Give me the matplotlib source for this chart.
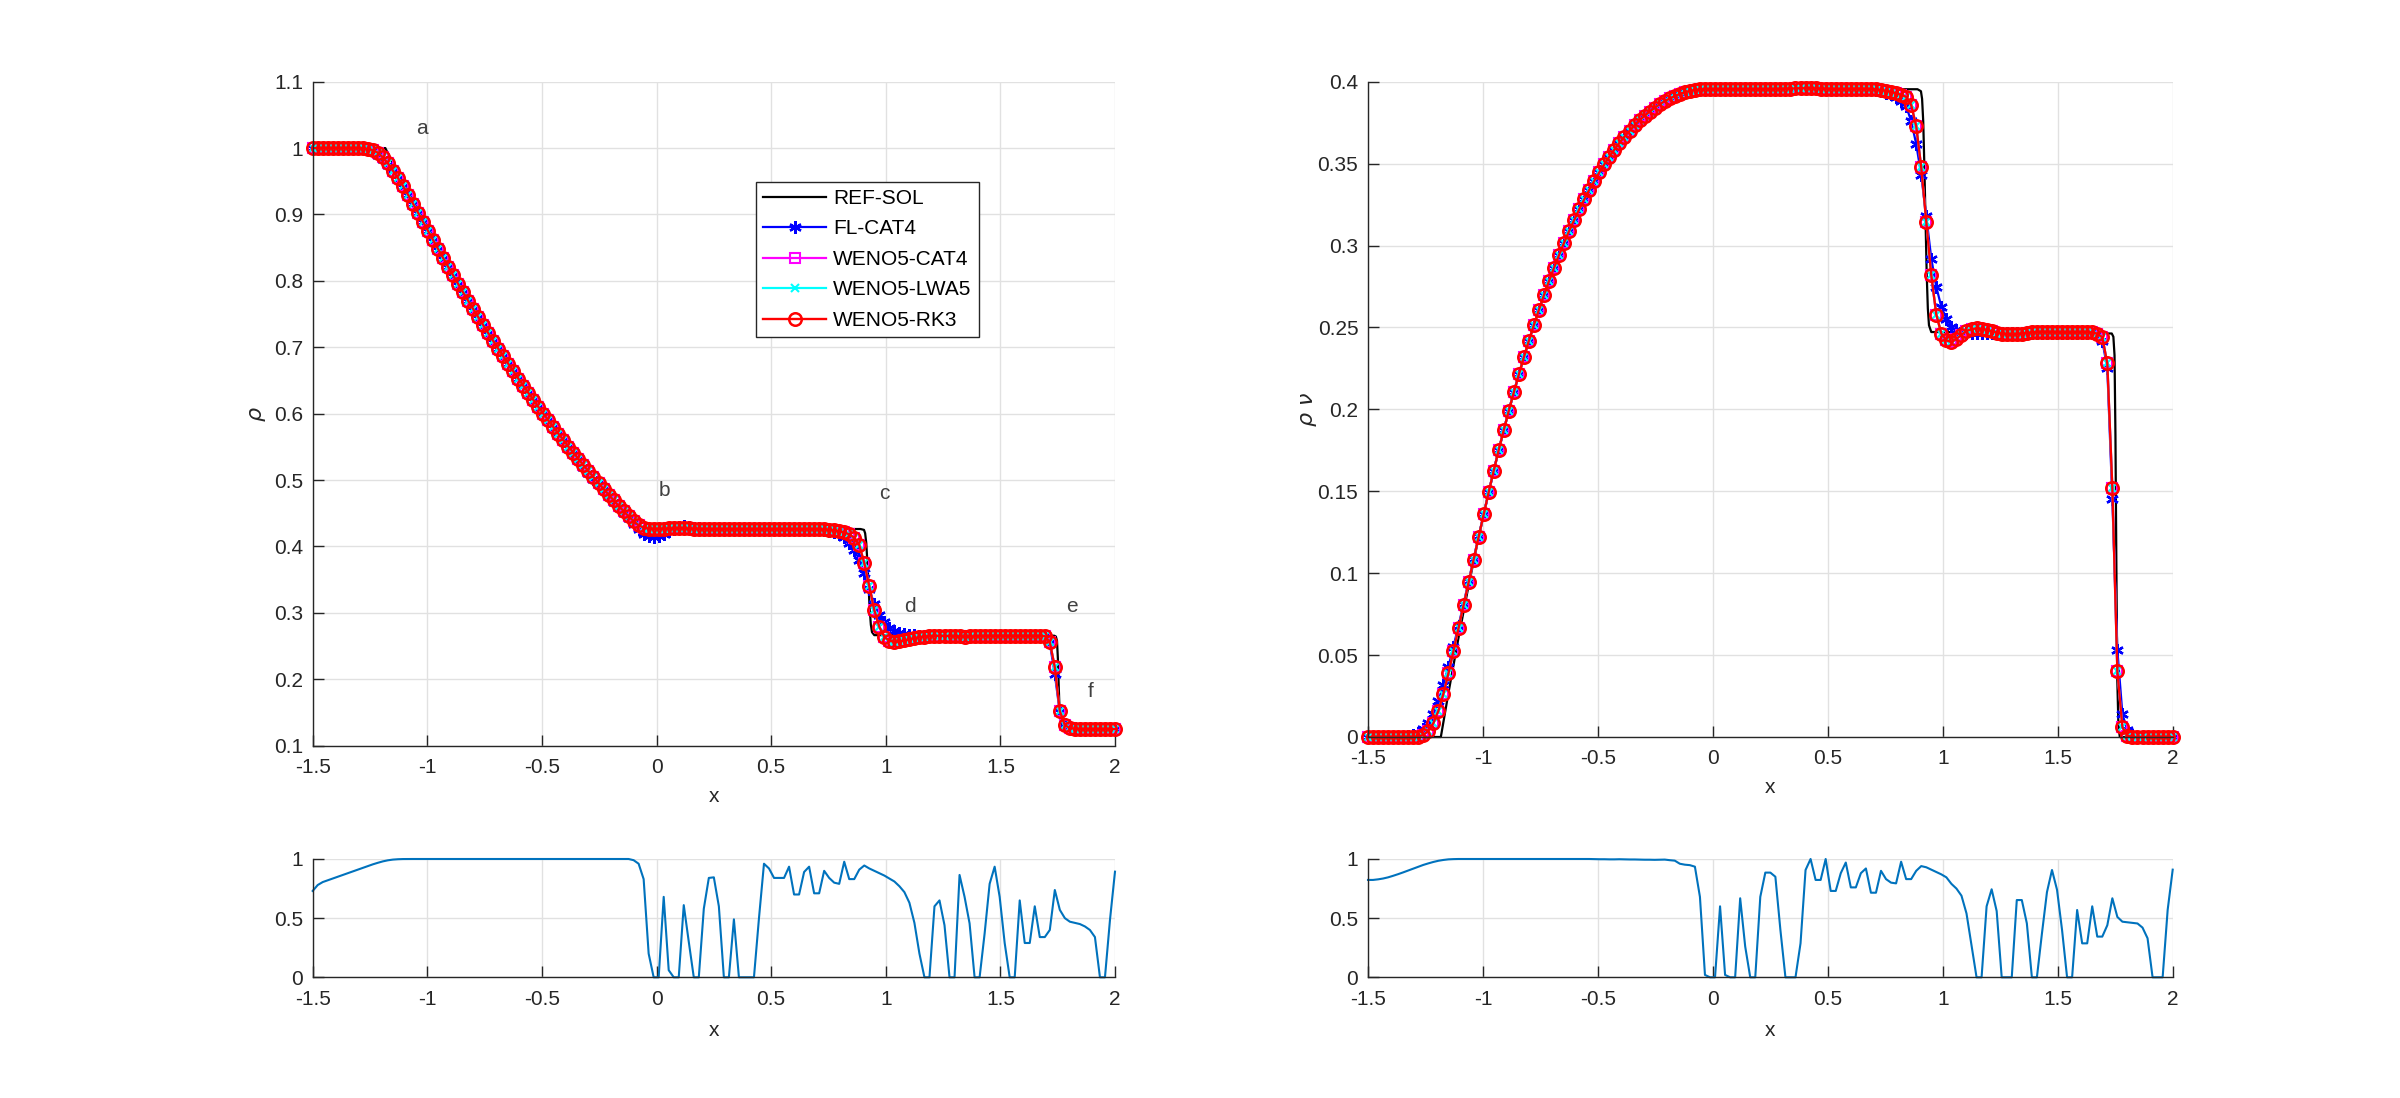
import numpy as np
import matplotlib
matplotlib.use("Agg")
import matplotlib.pyplot as plt
from matplotlib.ticker import FuncFormatter

plt.rcParams['font.family'] = ['Liberation Sans', 'DejaVu Sans']
plt.rcParams['axes.unicode_minus'] = False
plt.rcParams['mathtext.fontset'] = 'dejavusans'

# ---------------- data ----------------
x_min, x_max, n_pts = -1.5, 2.0, 161
x_ticks = [-1.5, -1, -0.5, 0, 0.5, 1, 1.5, 2]
rho_ticks = [0.1, 0.2, 0.3, 0.4, 0.5, 0.6, 0.7, 0.8, 0.9, 1.0, 1.1]
mom_ticks = [0, 0.05, 0.1, 0.15, 0.2, 0.25, 0.3, 0.35, 0.4]
ind_ticks = [0, 0.5, 1]
series_names = ['REF-SOL', 'FL-CAT4', 'WENO5-CAT4', 'WENO5-LWA5', 'WENO5-RK3']

# reference solution (polyline vertices)
x_ref = [-1.5, -1.1832, -1.15, -1.10625, -1.0625, -1.01875, -0.975, -0.93125, -0.8875,
         -0.84375, -0.8, -0.75625, -0.7125, -0.66875, -0.625, -0.58125, -0.5375,
         -0.49375, -0.45, -0.40625, -0.3625, -0.31875, -0.275, -0.23125, -0.1875,
         -0.14375, -0.1, -0.0703, 0.89, 0.905, 0.91, 0.915, 0.92, 0.925, 0.93, 0.935,
         0.94, 0.95, 1.735, 1.742, 1.747, 1.751, 1.755, 1.759, 1.764, 1.77, 2.0]
rho_ref = [1.0, 1.0, 0.9768, 0.9470, 0.9179, 0.8894, 0.8617, 0.8347, 0.8084, 0.7827,
           0.7577, 0.7334, 0.7096, 0.6865, 0.6640, 0.6421, 0.6208, 0.6000, 0.5798,
           0.5602, 0.5411, 0.5224, 0.5044, 0.4868, 0.4697, 0.4531, 0.4370, 0.4263,
           0.4263, 0.4250, 0.4200, 0.4050, 0.3750, 0.3400, 0.3050, 0.2820, 0.2710,
           0.2665, 0.2656, 0.2645, 0.2580, 0.2300, 0.1850, 0.1450, 0.1290, 0.1250, 0.1250]
mom_ref = [0.0, 0.0, 0.0270, 0.0607, 0.0923, 0.1219, 0.1495, 0.1753, 0.1992, 0.2214,
           0.2420, 0.2609, 0.2784, 0.2943, 0.3089, 0.3221, 0.3340, 0.3447, 0.3543,
           0.3627, 0.3700, 0.3764, 0.3817, 0.3862, 0.3898, 0.3925, 0.3945, 0.3954,
           0.3954, 0.3942, 0.3895, 0.3756, 0.3478, 0.3153, 0.2829, 0.2615, 0.2513,
           0.2472, 0.2463, 0.2443, 0.2330, 0.1840, 0.1052, 0.0350, 0.0070, 0.0, 0.0]

rho_weno = [
    1.0, 1.0, 1.0, 1.0, 1.0, 1.0, 1.0, 1.0, 1.0, 1.0,
    0.9995, 0.999, 0.997, 0.993, 0.986, 0.977, 0.966, 0.955, 0.943, 0.930,
    0.9165, 0.903, 0.889, 0.8755, 0.8617, 0.8481, 0.8347, 0.8215, 0.8084, 0.7955,
    0.7827, 0.7701, 0.7577, 0.7455, 0.7334, 0.7214, 0.7096, 0.6980, 0.6865, 0.6752,
    0.6640, 0.6530, 0.6421, 0.6314, 0.6208, 0.6103, 0.6000, 0.5898, 0.5798, 0.5699,
    0.5602, 0.5505, 0.5411, 0.5317, 0.5224, 0.5133, 0.5044, 0.4955, 0.4868, 0.4782,
    0.4697, 0.4614, 0.4533, 0.4455, 0.4382, 0.4320, 0.4283, 0.4270, 0.4266, 0.4266,
    0.4268, 0.4271, 0.4273, 0.4274, 0.4273, 0.4271, 0.4269, 0.4267, 0.4265, 0.4264,
    0.4264, 0.4264, 0.4264, 0.4264, 0.4264, 0.4264, 0.4264, 0.4264, 0.4264, 0.4264,
    0.4264, 0.4264, 0.4264, 0.4264, 0.4264, 0.4264, 0.4264, 0.4264, 0.4264, 0.4264,
    0.4263, 0.4261, 0.4257, 0.4251, 0.4243, 0.4232, 0.4214, 0.4183, 0.4130, 0.4020,
    0.3750, 0.3400, 0.3040, 0.2790, 0.2640, 0.2580, 0.2565, 0.2570, 0.2585, 0.2603,
    0.2620, 0.2634, 0.2644, 0.2651, 0.2655, 0.2656, 0.2655, 0.2652, 0.2648, 0.2645,
    0.2644, 0.2645, 0.2648, 0.2651, 0.2654, 0.2655, 0.2656, 0.2656, 0.2656, 0.2656,
    0.2656, 0.2656, 0.2656, 0.2656, 0.2656, 0.2655, 0.2650, 0.2560, 0.2180, 0.1520,
    0.1310, 0.1265, 0.1255, 0.125, 0.125, 0.125, 0.125, 0.125, 0.125, 0.125,
    0.125]

rho_fl = [
    1.0, 1.0, 1.0, 1.0, 1.0, 1.0, 1.0, 1.0, 1.0, 1.0,
    0.9995, 0.998, 0.995, 0.990, 0.983, 0.975, 0.965, 0.954, 0.942, 0.929,
    0.916, 0.902, 0.8885, 0.8745, 0.8607, 0.8471, 0.8337, 0.8205, 0.8074, 0.7945,
    0.7817, 0.7691, 0.7567, 0.7445, 0.7324, 0.7204, 0.7086, 0.6970, 0.6855, 0.6742,
    0.6630, 0.6520, 0.6411, 0.6304, 0.6198, 0.6093, 0.5990, 0.5888, 0.5788, 0.5689,
    0.5582, 0.5485, 0.5391, 0.5297, 0.5204, 0.5113, 0.5024, 0.4935, 0.4848, 0.4762,
    0.4677, 0.4594, 0.4510, 0.4430, 0.4345, 0.4265, 0.4195, 0.4160, 0.4150, 0.4162,
    0.4192, 0.4232, 0.4268, 0.4293, 0.4302, 0.4298, 0.4285, 0.4273, 0.4266, 0.4263,
    0.4263, 0.4264, 0.4264, 0.4264, 0.4264, 0.4264, 0.4264, 0.4264, 0.4264, 0.4264,
    0.4264, 0.4264, 0.4264, 0.4264, 0.4264, 0.4264, 0.4264, 0.4264, 0.4264, 0.4264,
    0.4262, 0.4257, 0.4250, 0.4238, 0.4220, 0.4190, 0.4140, 0.4060, 0.3950, 0.3800,
    0.3600, 0.3360, 0.3130, 0.2970, 0.2860, 0.2780, 0.2730, 0.2700, 0.2680, 0.2668,
    0.2661, 0.2658, 0.2657, 0.2656, 0.2656, 0.2656, 0.2656, 0.2656, 0.2656, 0.2656,
    0.2656, 0.2656, 0.2656, 0.2656, 0.2656, 0.2656, 0.2656, 0.2656, 0.2656, 0.2656,
    0.2656, 0.2656, 0.2656, 0.2656, 0.2656, 0.2656, 0.2645, 0.2540, 0.2080, 0.1500,
    0.1330, 0.1280, 0.1260, 0.1255, 0.125, 0.125, 0.125, 0.125, 0.125, 0.125,
    0.125]

mom_weno = [
    0.0, 0.0, 0.0, 0.0, 0.0, 0.0, 0.0, 0.0, 0.0, 0.0,
    0.0003, 0.0012, 0.0038, 0.0085, 0.0160, 0.0265, 0.0390, 0.0525, 0.0665, 0.0805,
    0.0945, 0.1083, 0.1222, 0.1359, 0.1495, 0.1626, 0.1753, 0.1874, 0.1992, 0.2105,
    0.2214, 0.2319, 0.2420, 0.2516, 0.2609, 0.2698, 0.2784, 0.2865, 0.2943, 0.3018,
    0.3089, 0.3156, 0.3221, 0.3282, 0.3340, 0.3395, 0.3447, 0.3496, 0.3543, 0.3586,
    0.3627, 0.3665, 0.3700, 0.3733, 0.3764, 0.3792, 0.3817, 0.3841, 0.3862, 0.3881,
    0.3898, 0.3912, 0.3925, 0.3936, 0.3944, 0.3950, 0.3953, 0.3954, 0.3954, 0.3954,
    0.3954, 0.3954, 0.3954, 0.3954, 0.3954, 0.3954, 0.3954, 0.3954, 0.3954, 0.3954,
    0.3954, 0.3955, 0.3956, 0.3957, 0.3958, 0.3959, 0.3960, 0.3960, 0.3960, 0.3959,
    0.3958, 0.3957, 0.3956, 0.3955, 0.3955, 0.3955, 0.3956, 0.3957, 0.3957, 0.3956,
    0.3955, 0.3953, 0.3950, 0.3945, 0.3939, 0.3930, 0.3920, 0.3908, 0.3858, 0.3729,
    0.3477, 0.3144, 0.2818, 0.2578, 0.2462, 0.2421, 0.2411, 0.2430, 0.2455, 0.2478,
    0.2490, 0.2494, 0.2492, 0.2486, 0.2478, 0.2469, 0.2462, 0.2458, 0.2457, 0.2459,
    0.2463, 0.2467, 0.2470, 0.2472, 0.2473, 0.2473, 0.2472, 0.2471, 0.2470, 0.2470,
    0.2470, 0.2471, 0.2472, 0.2472, 0.2470, 0.2462, 0.2440, 0.2280, 0.1520, 0.0400,
    0.0060, 0.0008, 0.0, 0.0, 0.0, 0.0, 0.0, 0.0, 0.0, 0.0,
    0.0]

mom_fl = [
    0.0, 0.0, 0.0, 0.0, 0.0, 0.0, 0.0, 0.0, 0.0005, 0.0012,
    0.0025, 0.0048, 0.0085, 0.0140, 0.0220, 0.0320, 0.0430, 0.0552, 0.0680, 0.0812,
    0.0950, 0.1088, 0.1225, 0.1359, 0.1495, 0.1626, 0.1753, 0.1874, 0.1992, 0.2105,
    0.2214, 0.2319, 0.2420, 0.2516, 0.2609, 0.2698, 0.2784, 0.2865, 0.2943, 0.3018,
    0.3089, 0.3156, 0.3221, 0.3282, 0.3340, 0.3395, 0.3447, 0.3496, 0.3543, 0.3586,
    0.3627, 0.3665, 0.3700, 0.3733, 0.3764, 0.3792, 0.3817, 0.3841, 0.3862, 0.3881,
    0.3898, 0.3912, 0.3925, 0.3936, 0.3944, 0.3950, 0.3953, 0.3954, 0.3954, 0.3954,
    0.3954, 0.3954, 0.3954, 0.3954, 0.3954, 0.3954, 0.3954, 0.3954, 0.3954, 0.3954,
    0.3954, 0.3955, 0.3956, 0.3957, 0.3958, 0.3959, 0.3960, 0.3960, 0.3960, 0.3959,
    0.3958, 0.3957, 0.3956, 0.3955, 0.3955, 0.3955, 0.3956, 0.3957, 0.3957, 0.3956,
    0.3953, 0.3949, 0.3943, 0.3934, 0.3922, 0.3908, 0.3885, 0.3850, 0.3760, 0.3620,
    0.3430, 0.3180, 0.2920, 0.2747, 0.2625, 0.2554, 0.2503, 0.2482, 0.2472, 0.2468,
    0.2466, 0.2465, 0.2465, 0.2465, 0.2465, 0.2465, 0.2465, 0.2465, 0.2465, 0.2465,
    0.2465, 0.2465, 0.2465, 0.2465, 0.2465, 0.2465, 0.2465, 0.2465, 0.2465, 0.2465,
    0.2465, 0.2465, 0.2465, 0.2465, 0.2465, 0.2460, 0.2420, 0.2250, 0.1450, 0.0530,
    0.0140, 0.0040, 0.0010, 0.0, 0.0, 0.0, 0.0, 0.0, 0.0, 0.0,
    0.0]

ind_rho = [
    0.73, 0.78, 0.805, 0.82, 0.835, 0.85, 0.865, 0.88, 0.895, 0.91,
    0.925, 0.94, 0.955, 0.968, 0.98, 0.989, 0.995, 0.998, 0.9995, 1.0,
    1.0, 1.0, 1.0, 1.0, 1.0, 1.0, 1.0, 1.0, 1.0, 1.0,
    1.0, 1.0, 1.0, 1.0, 1.0, 1.0, 1.0, 1.0, 1.0, 1.0,
    1.0, 1.0, 1.0, 1.0, 1.0, 1.0, 1.0, 1.0, 1.0, 1.0,
    1.0, 1.0, 1.0, 1.0, 1.0, 1.0, 1.0, 1.0, 1.0, 1.0,
    1.0, 1.0, 1.0, 1.0, 0.99, 0.96, 0.83, 0.2, 0.0, 0.0,
    0.68, 0.06, 0.0, 0.0, 0.61, 0.3, 0.0, 0.0, 0.58, 0.84,
    0.845, 0.6, 0.0, 0.0, 0.49, 0.0, 0.0, 0.0, 0.0, 0.5,
    0.96, 0.92, 0.84, 0.84, 0.84, 0.935, 0.7, 0.7, 0.89, 0.935,
    0.71, 0.71, 0.9, 0.84, 0.8, 0.79, 0.977, 0.83, 0.83, 0.91,
    0.945, 0.92, 0.9, 0.88, 0.86, 0.835, 0.81, 0.77, 0.72, 0.63,
    0.46, 0.2, 0.0, 0.0, 0.6, 0.65, 0.44, 0.0, 0.0, 0.865,
    0.68, 0.456, 0.0, 0.0, 0.37, 0.79, 0.935, 0.68, 0.29, 0.0,
    0.0, 0.65, 0.29, 0.29, 0.6, 0.34, 0.34, 0.4, 0.738, 0.57,
    0.5, 0.47, 0.46, 0.45, 0.43, 0.4, 0.34, 0.0, 0.0, 0.485,
    0.893]

ind_mom = [
    0.823, 0.823, 0.828, 0.835, 0.845, 0.858, 0.872, 0.887, 0.903, 0.92,
    0.935, 0.95, 0.963, 0.975, 0.985, 0.992, 0.997, 0.999, 1.0, 1.0,
    1.0, 1.0, 1.0, 1.0, 1.0, 1.0, 1.0, 1.0, 1.0, 1.0,
    1.0, 1.0, 1.0, 1.0, 1.0, 1.0, 1.0, 1.0, 1.0, 1.0,
    1.0, 1.0, 1.0, 1.0, 1.0, 0.999, 0.998, 0.998, 0.997, 0.997,
    0.998, 0.997, 0.996, 0.996, 0.995, 0.994, 0.994, 0.993, 0.994, 0.995,
    0.99, 0.986, 0.96, 0.952, 0.948, 0.935, 0.68, 0.02, 0.0, 0.0,
    0.6, 0.02, 0.0, 0.0, 0.668, 0.26, 0.0, 0.0, 0.68, 0.885,
    0.885, 0.85, 0.4, 0.0, 0.0, 0.0, 0.287, 0.907, 1.0, 0.823,
    0.823, 1.0, 0.73, 0.73, 0.88, 0.97, 0.76, 0.76, 0.88, 0.92,
    0.715, 0.715, 0.9, 0.83, 0.8, 0.794, 0.977, 0.83, 0.83, 0.9,
    0.94, 0.93, 0.91, 0.89, 0.87, 0.845, 0.79, 0.75, 0.69, 0.54,
    0.27, 0.0, 0.0, 0.6, 0.744, 0.56, 0.0, 0.0, 0.0, 0.653,
    0.653, 0.456, 0.0, 0.0, 0.37, 0.72, 0.907, 0.74, 0.4, 0.0,
    0.0, 0.569, 0.287, 0.287, 0.6, 0.344, 0.344, 0.44, 0.668, 0.51,
    0.47, 0.465, 0.46, 0.455, 0.42, 0.33, 0.0, 0.0, 0.0, 0.57,
    0.91]

annot_labels = ['a', 'b', 'c', 'd', 'e', 'f']
annot_x = [-1.05, 0.01, 0.97, 1.08, 1.785, 1.88]
annot_y = [1.03, 0.485, 0.48, 0.31, 0.309, 0.181]

for arr in (rho_weno, rho_fl, mom_weno, mom_fl, ind_rho, ind_mom):
    assert len(arr) == n_pts, len(arr)

x = np.linspace(x_min, x_max, n_pts)

# ---------------- styling ----------------
TXT = '#262626'
GRID = '#e1e1e1'
FS = 15
fmt = FuncFormatter(lambda v, p: '%g' % round(v, 6))


def style(ax, yticks, ylim):
    ax.set_xlim(x_min, x_max)
    ax.set_ylim(*ylim)
    ax.set_xticks(x_ticks)
    ax.set_yticks(yticks)
    ax.xaxis.set_major_formatter(fmt)
    ax.yaxis.set_major_formatter(fmt)
    for s in ('top', 'right'):
        ax.spines[s].set_visible(False)
    for s in ('left', 'bottom'):
        ax.spines[s].set_color(TXT)
        ax.spines[s].set_linewidth(1.0)
    ax.tick_params(axis='both', direction='in', length=8, width=1.0,
                   colors=TXT, labelsize=FS)
    ax.tick_params(axis='x', pad=9)
    ax.tick_params(axis='y', pad=7)
    ax.grid(True, color=GRID, linewidth=1.0)
    ax.set_axisbelow(True)


def plot_solution(ax, ref_y, fl_y, weno_y):
    ax.plot(x_ref, ref_y, '-', color='black', lw=1.6, label=series_names[0], clip_on=False)
    ax.plot(x, fl_y, '-', color='blue', lw=1.6, marker=(6, 2, 0), ms=9, mew=1.7,
            label=series_names[1], clip_on=False)
    ax.plot(x, weno_y, '-', color='magenta', lw=1.6, marker='s', ms=6.5, mew=1.5,
            mfc='none', label=series_names[2], clip_on=False)
    ax.plot(x, weno_y, '-', color='cyan', lw=1.6, marker='x', ms=6, mew=1.5,
            label=series_names[3], clip_on=False)
    ax.plot(x, weno_y, '-', color='red', lw=1.7, marker='o', ms=9, mew=1.8,
            mfc='none', label=series_names[4], clip_on=False)


fig = plt.figure(figsize=(24, 10.98), dpi=100)

# top-left: density
ax1 = fig.add_axes([0.13029, 0.32086, 0.33429, 0.60474])
style(ax1, rho_ticks, (0.1, 1.1))
plot_solution(ax1, rho_ref, rho_fl, rho_weno)
ax1.set_xlabel('x', fontsize=FS, color=TXT)
ax1.xaxis.set_label_coords(0.5, -0.062)
ax1.set_ylabel(r'$\rho$', fontsize=FS + 1, color=TXT)
ax1.yaxis.set_label_coords(-0.056, 0.5)
for t, tx, ty in zip(annot_labels, annot_x, annot_y):
    ax1.text(tx, ty, t, fontsize=FS, color='#404040', ha='left', va='center')
leg = ax1.legend(loc='upper left', bbox_to_anchor=(0.5525, 0.8494), borderaxespad=0,
                 fontsize=FS, frameon=True, fancybox=False, framealpha=1,
                 edgecolor='#262626', handlelength=3.0, handletextpad=0.35,
                 borderpad=0.35, labelspacing=0.55)
leg.get_frame().set_linewidth(1.0)
for t in leg.get_texts():
    t.set_color('black')

# top-right: momentum
ax2 = fig.add_axes([0.57, 0.32878, 0.33529, 0.59681])
style(ax2, mom_ticks, (0, 0.4))
plot_solution(ax2, mom_ref, mom_fl, mom_weno)
ax2.set_xlabel('x', fontsize=FS, color=TXT)
ax2.xaxis.set_label_coords(0.5, -0.062)
ax2.set_ylabel(r'$\rho\ \nu$', fontsize=FS + 1, color=TXT)
ax2.yaxis.set_label_coords(-0.061, 0.5)

# bottom panels: indicators
ax3 = fig.add_axes([0.13029, 0.10993, 0.33429, 0.10774])
style(ax3, ind_ticks, (0, 1))
ax3.plot(x, ind_rho, '-', color='#0072BD', lw=1.5, clip_on=False)
ax3.set_xlabel('x', fontsize=FS, color=TXT)
ax3.xaxis.set_label_coords(0.5, -0.37)

ax4 = fig.add_axes([0.57, 0.10993, 0.33529, 0.10774])
style(ax4, ind_ticks, (0, 1))
ax4.plot(x, ind_mom, '-', color='#0072BD', lw=1.5, clip_on=False)
ax4.set_xlabel('x', fontsize=FS, color=TXT)
ax4.xaxis.set_label_coords(0.5, -0.37)

fig.savefig('out.png', dpi=100)
